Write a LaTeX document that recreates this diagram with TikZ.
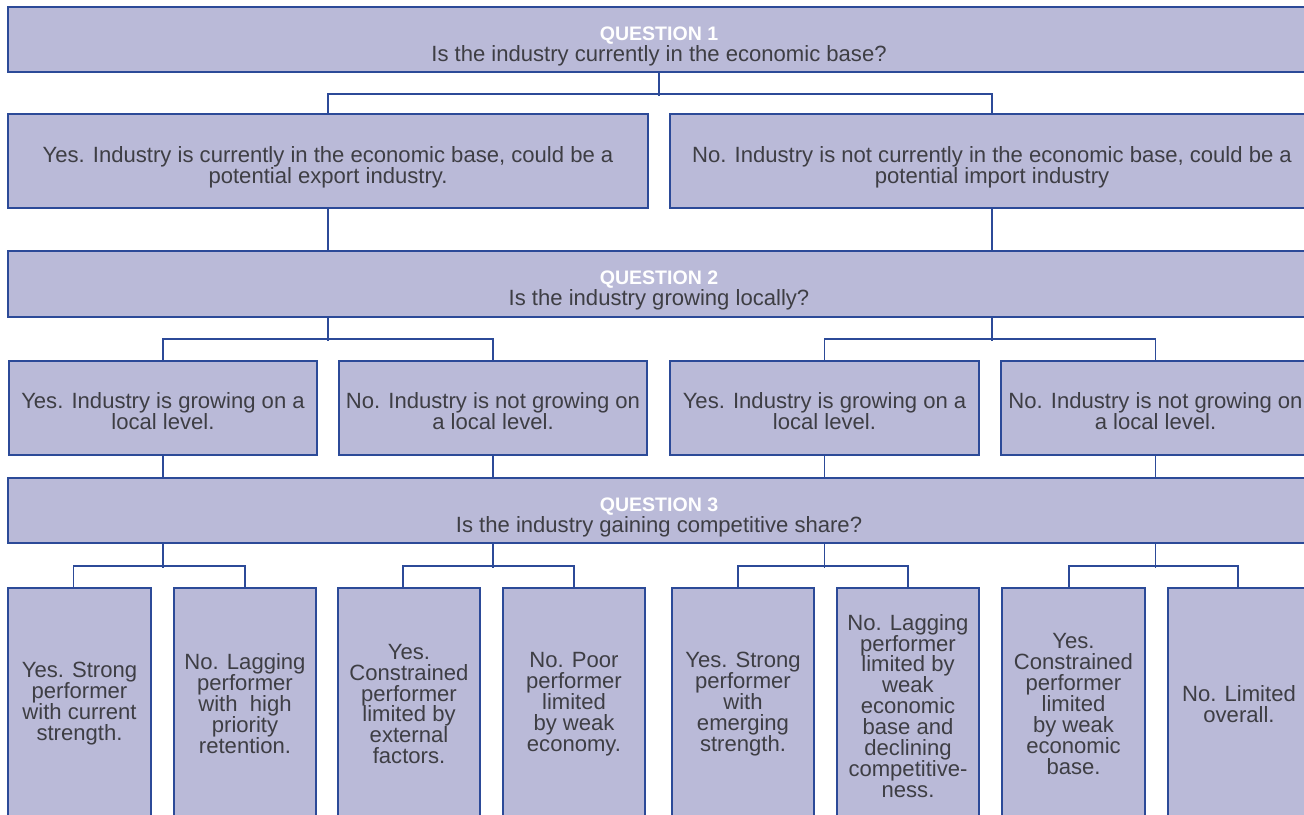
\documentclass[tikz,border=0pt]{standalone}
\usepackage{fontspec}
\setmainfont{Liberation Sans}
\definecolor{qfill}{RGB}{186,186,216}
\definecolor{qline}{RGB}{44,74,152}
\definecolor{qink}{RGB}{62,62,68}
\newcommand{\qhead}[1]{{\fontsize{13.9}{14.9}\selectfont\bfseries\color{white}#1}}

\tikzset{
  box/.style={draw=qline, fill=qfill, line width=1.4pt, inner sep=0pt},
  boxtext/.style={text=qink, align=center, inner sep=0pt,
    font=\fontsize{15.7}{14.9}\selectfont},
  link/.style={draw=qline, line width=1.4pt}
}

\begin{document}
\begin{tikzpicture}[x=0.025cm, y=-0.025cm]
        \clip (0,0) rectangle (1304,815);

        % Question boxes
        \node[box, minimum width=1302*0.025cm, minimum height=65*0.025cm] (q1) at (659,39.5) {};
        \node[box, minimum width=1302*0.025cm, minimum height=66*0.025cm] (q2) at (659,284) {};
        \node[box, minimum width=1302*0.025cm, minimum height=65*0.025cm] (q3) at (659,510.5) {};

        \node[boxtext] (q1t) at (659,46) {\qhead{QUESTION 1}\\Is the industry currently in the economic base?};
        \node[boxtext] (q2t) at (659,290) {\qhead{QUESTION 2}\\Is the industry growing locally?};
        \node[boxtext] (q3t) at (659,517) {\qhead{QUESTION 3}\\Is the industry gaining competitive share?};

        % Answers to question 1
        \node[box, minimum width=640*0.025cm, minimum height=94*0.025cm] (a1) at (328,161) {};
        \node[box, minimum width=644*0.025cm, minimum height=94*0.025cm] (a2) at (992,161) {};
        \node[boxtext] (a1t) at (328,167) {Yes. Industry is currently in the economic base, could be a\\potential export industry.};
        \node[boxtext] (a2t) at (992,167) {No. Industry is not currently in the economic base, could be a\\potential import industry};

        % Answers to question 2
        \node[box, minimum width=308*0.025cm, minimum height=94*0.025cm] (b1) at (163,408) {};
        \node[box, minimum width=308*0.025cm, minimum height=94*0.025cm] (b2) at (493,408) {};
        \node[box, minimum width=309*0.025cm, minimum height=94*0.025cm] (b3) at (824.5,408) {};
        \node[box, minimum width=309*0.025cm, minimum height=94*0.025cm] (b4) at (1155.5,408) {};
        \node[boxtext] (b1t) at (163,411) {Yes. Industry is growing on a\\local level.};
        \node[boxtext] (b2t) at (493,411) {No. Industry is not growing on\\a local level.};
        \node[boxtext] (b3t) at (824.5,411) {Yes. Industry is growing on a\\local level.};
        \node[boxtext] (b4t) at (1155.5,411) {No. Industry is not growing on\\a local level.};

        % Answers to question 3
        \node[box, minimum width=143*0.025cm, minimum height=252*0.025cm] (c1) at (79.5,714) {};
        \node[box, minimum width=142*0.025cm, minimum height=252*0.025cm] (c2) at (245,714) {};
        \node[box, minimum width=142*0.025cm, minimum height=252*0.025cm] (c3) at (409,714) {};
        \node[box, minimum width=142*0.025cm, minimum height=252*0.025cm] (c4) at (574,714) {};
        \node[box, minimum width=142*0.025cm, minimum height=252*0.025cm] (c5) at (743,714) {};
        \node[box, minimum width=142*0.025cm, minimum height=252*0.025cm] (c6) at (908,714) {};
        \node[box, minimum width=143*0.025cm, minimum height=252*0.025cm] (c7) at (1073.5,714) {};
        \node[box, minimum width=142*0.025cm, minimum height=252*0.025cm] (c8) at (1239,714) {};

        \node[boxtext] (c1t) at (79.5,704) {Yes. Strong\\performer\\with current\\strength.};
        \node[boxtext] (c2t) at (245,704) {No. Lagging\\performer\\with~~high\\priority\\retention.};
        \node[boxtext] (c3t) at (409,704) {Yes.\\Constrained\\performer\\limited by\\external\\factors.};
        \node[boxtext] (c4t) at (574,704) {No. Poor\\performer\\limited\\by weak\\economy.};
        \node[boxtext] (c5t) at (743,704) {Yes. Strong\\performer\\with\\emerging\\strength.};
        \node[boxtext] (c6t) at (908,706) {No. Lagging\\performer\\limited by\\weak\\economic\\base and\\declining\\competitive-\\ness.};
        \node[boxtext] (c7t) at (1073.5,704) {Yes.\\Constrained\\performer\\limited\\by weak\\economic\\base.};
        \node[boxtext] (c8t) at (1239,704) {No. Limited\\overall.};

        % Connectors from question 1
        \draw[link] (q1.south) -- ++(0,23);
        \draw[link] (a1.north) -- ++(0,-19) -| (a2.north);
        \draw[link] (a1.south) -- (a1.south |- q2.north);
        \draw[link] (a2.south) -- (a2.south |- q2.north);

        % Connectors from question 2
        \draw[link] (q2.south -| a1.south) -- ++(0,23);
        \draw[link] (q2.south -| a2.south) -- ++(0,23);
        \draw[link] (b1.north) -- ++(0,-21) -| (b2.north);
        \draw[link] (b3.north) -- ++(0,-21) -| (b4.north);
        \draw[link] (b1.south) -- (b1.south |- q3.north);
        \draw[link] (b2.south) -- (b2.south |- q3.north);
        \draw[link] (b3.south) -- (b3.south |- q3.north);
        \draw[link] (b4.south) -- (b4.south |- q3.north);

        % Connectors from question 3
        \draw[link] (q3.south -| b1.south) -- ++(0,24);
        \draw[link] (q3.south -| b2.south) -- ++(0,24);
        \draw[link] (q3.south -| b3.south) -- ++(0,24);
        \draw[link] (q3.south -| b4.south) -- ++(0,24);
        \draw[link] ([xshift=-0.15cm]c1.north) -- ++(0,-21) -| (c2.north);
        \draw[link] ([xshift=-0.15cm]c3.north) -- ++(0,-21) -| (c4.north);
        \draw[link] ([xshift=-0.12cm]c5.north) -- ++(0,-21) -| (c6.north);
        \draw[link] ([xshift=-0.12cm]c7.north) -- ++(0,-21) -| ([xshift=-0.03cm]c8.north);
    \end{tikzpicture}
\end{document}
